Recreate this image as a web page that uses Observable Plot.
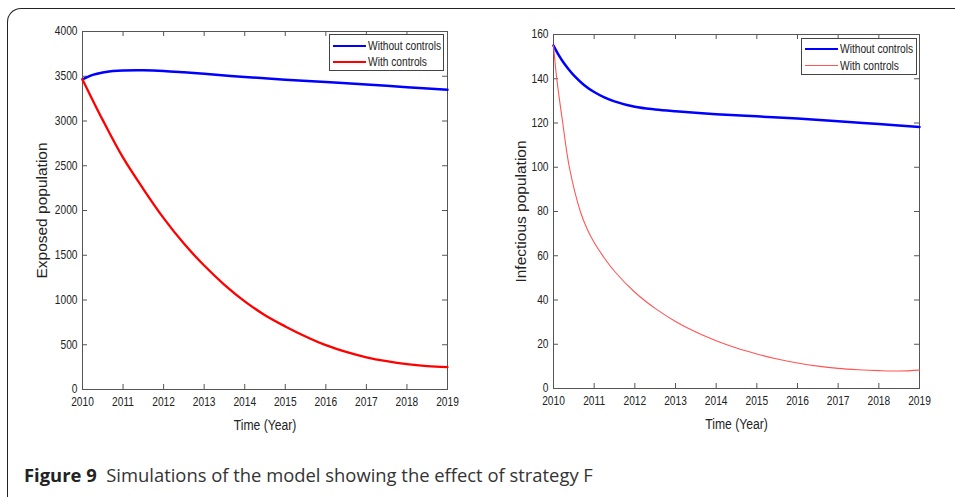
<!DOCTYPE html>
<html>
<head>
<meta charset="utf-8">
<script src="https://cdn.jsdelivr.net/npm/d3@7"></script>
<script src="https://cdn.jsdelivr.net/npm/@observablehq/plot@0.6"></script>
<style>
  body { margin: 0; background: #fff; }
  #page { position: relative; width: 955px; height: 497px; overflow: hidden; background: #fff; }
  #box { position: absolute; left: 7px; top: 8px; width: 1100px; height: 700px; box-sizing: border-box;
         border-top: 1.5px solid #222; border-left: 1.5px solid #222; border-top-left-radius: 14px; }
  .panel { position: absolute; top: 0; }
  .legend { position: absolute; border: 1px solid #444; background: #fff; box-sizing: border-box;
            font-family: "Liberation Sans", Arial, sans-serif; font-size: 12px; color: #222; }
  .legend .sw { position: absolute; height: 0; }
  .legend .lab { position: absolute; white-space: nowrap; transform: translateY(-50%) scaleX(0.85);
                 transform-origin: left center; line-height: 1; }
  #caption { position: absolute; left: 24px; top: 462px; font-family: "Open Sans", "Noto Sans", sans-serif;
             font-size: 18.4px; color: #333; white-space: nowrap; }
  #caption b { font-weight: 700; color: #222; }
</style>
</head>
<body>
<div id="page">
  <div id="box"></div>
  <div id="left" class="panel" style="left:0px"></div>
  <div id="right" class="panel" style="left:480px"></div>
  <div id="caption"><b>Figure 9</b>&nbsp; Simulations of the model showing the effect of strategy F</div>
</div>
<script>
// ---------- data ----------
const seriesNames = ["Without controls", "With controls"];
const xTicks = [2010, 2011, 2012, 2013, 2014, 2015, 2016, 2017, 2018, 2019];
const exposedTicks = [0, 500, 1000, 1500, 2000, 2500, 3000, 3500, 4000];
const infectiousTicks = [0, 20, 40, 60, 80, 100, 120, 140, 160];

// Exposed population, without controls
const exposedWithoutT = [2010, 2010.25, 2010.5, 2010.75, 2011, 2011.5, 2012, 2012.5, 2013, 2014, 2015, 2016, 2017, 2018, 2019];
const exposedWithoutV = [3465, 3515, 3543, 3558, 3565, 3567, 3560, 3545, 3528, 3492, 3462, 3435, 3408, 3378, 3350];
// Exposed population, with controls
const exposedWithT = [2010, 2010.5, 2011, 2011.5, 2012, 2012.5, 2013, 2013.5, 2014, 2014.5, 2015, 2015.5, 2016, 2016.5, 2017, 2017.5, 2018, 2018.5, 2019];
const exposedWithV = [3465, 3010, 2590, 2240, 1915, 1630, 1385, 1170, 985, 830, 705, 593, 495, 420, 360, 316, 283, 262, 250];

// Infectious population, without controls
const infectiousWithoutT = [2010, 2010.125, 2010.25, 2010.375, 2010.5, 2010.75, 2011, 2011.25, 2011.5, 2012, 2012.5, 2013, 2014, 2015, 2016, 2017, 2018, 2019];
const infectiousWithoutV = [155, 150.8, 147.2, 144.2, 141.5, 137.2, 134.0, 131.6, 129.8, 127.3, 126.1, 125.3, 124, 123, 122, 120.8, 119.5, 118.2];
// Infectious population, with controls
const infectiousWithT = [2010, 2010.08, 2010.22, 2010.39, 2010.66, 2010.83, 2011, 2011.25, 2011.5, 2012, 2012.5, 2013, 2013.5, 2014, 2014.5, 2015, 2015.5, 2016, 2016.5, 2017, 2017.5, 2018, 2018.5, 2019];
const infectiousWithV = [155, 140, 121, 100, 80, 72, 66, 59, 53, 43.5, 36.2, 30.3, 25.5, 21.6, 18.3, 15.6, 13.3, 11.5, 10.1, 9.1, 8.5, 8.1, 7.9, 8.3];

const xLabel = "Time (Year)";
const yLabelExposed = "Exposed population";
const yLabelInfectious = "Infectious population";

// ---------- drawing ----------
const sans = '"Liberation Sans", Arial, sans-serif';
const frameColor = "#555";
const squeeze = 0.85; // the reference figure is horizontally compressed

function rows(t, v) { return t.map((x, i) => ({x, y: v[i]})); }

function condense(svg) {
  // horizontally compress non-rotated texts around their anchor point
  svg.querySelectorAll("text").forEach(t => {
    const tr = t.getAttribute("transform") || "";
    if (tr.includes("rotate")) return;
    if (tr) {
      t.setAttribute("transform", tr + ` scale(${squeeze},1)`);
    } else {
      const x = +(t.getAttribute("x") || 0), y = +(t.getAttribute("y") || 0);
      t.removeAttribute("x"); t.removeAttribute("y");
      t.setAttribute("transform", `translate(${x},${y}) scale(${squeeze},1)`);
    }
  });
  return svg;
}

function panel({width, height, mL, mR, mT, mB, yDomain, yTicks, yLabel, yLabelDx, s1, s2, red, redWidth}) {
  const innerW = width - mL - mR;
  const innerH = height - mT - mB;
  return condense(Plot.plot({
    width, height,
    marginLeft: mL, marginRight: mR, marginTop: mT, marginBottom: mB,
    style: {fontFamily: sans, fontSize: "12px", color: "#222", background: "transparent", overflow: "visible"},
    x: {domain: [2010, 2019], axis: null},
    y: {domain: yDomain, axis: null},
    marks: [
      Plot.frame({stroke: frameColor, strokeWidth: 1}),
      // inward tick marks on all four sides
      Plot.tickX(xTicks, {x: d => d, stroke: frameColor, insetTop: innerH - 5}),
      Plot.tickX(xTicks, {x: d => d, stroke: frameColor, insetBottom: innerH - 5}),
      Plot.tickY(yTicks, {y: d => d, stroke: frameColor, insetRight: innerW - 5}),
      Plot.tickY(yTicks, {y: d => d, stroke: frameColor, insetLeft: innerW - 5}),
      Plot.axisX(xTicks, {tickSize: 0, tickPadding: 8, tickFormat: d => String(d), label: null}),
      Plot.axisY(yTicks, {tickSize: 0, tickPadding: 5, tickFormat: d => String(d), label: null}),
      Plot.text([xLabel], {frameAnchor: "bottom", lineAnchor: "middle", textAnchor: "middle", dy: 36, fontSize: 14.3, fill: "#222"}),
      Plot.text([yLabel], {frameAnchor: "left", lineAnchor: "middle", textAnchor: "middle", rotate: -90, dx: yLabelDx, fontSize: 15.5, fill: "#222"}),
      Plot.line(rows(s1.t, s1.v), {x: "x", y: "y", stroke: "#0000ff", strokeWidth: 2.5, curve: "catmull-rom"}),
      Plot.line(rows(s2.t, s2.v), {x: "x", y: "y", stroke: red, strokeWidth: redWidth, curve: "catmull-rom"})
    ]
  }));
}

document.getElementById("left").appendChild(panel({
  width: 475, height: 430, mL: 82, mR: 28, mT: 31, mB: 41,
  yDomain: [0, 4000], yTicks: exposedTicks, yLabel: yLabelExposed, yLabelDx: -40,
  s1: {t: exposedWithoutT, v: exposedWithoutV}, s2: {t: exposedWithT, v: exposedWithV},
  red: "#ff0000", redWidth: 2.3
}));
document.getElementById("right").appendChild(panel({
  width: 475, height: 430, mL: 73, mR: 36, mT: 34, mB: 42,
  yDomain: [0, 160], yTicks: infectiousTicks, yLabel: yLabelInfectious, yLabelDx: -32,
  s1: {t: infectiousWithoutT, v: infectiousWithoutV}, s2: {t: infectiousWithT, v: infectiousWithV},
  red: "#ff5555", redWidth: 1.1
}));

// legends
function legend(parent, {left, top, w, h, row1, row2, lx1, lx2, tx, colors, widths}) {
  const box = document.createElement("div");
  box.className = "legend";
  Object.assign(box.style, {left: left + "px", top: top + "px", width: w + "px", height: h + "px"});
  [row1, row2].forEach((ry, i) => {
    const sw = document.createElement("div");
    sw.className = "sw";
    Object.assign(sw.style, {left: lx1 + "px", width: (lx2 - lx1) + "px", top: (ry - widths[i] / 2) + "px",
      borderTop: widths[i] + "px solid " + colors[i]});
    const lab = document.createElement("div");
    lab.className = "lab";
    lab.textContent = seriesNames[i];
    Object.assign(lab.style, {left: tx + "px", top: ry + "px"});
    box.appendChild(sw); box.appendChild(lab);
  });
  parent.appendChild(box);
}
const page = document.getElementById("page");
legend(page, {left: 329, top: 34, w: 115, h: 37, row1: 11, row2: 27, lx1: 3, lx2: 36, tx: 38,
  colors: ["#0000ff", "#ff0000"], widths: [2.5, 2.3]});
legend(page, {left: 801, top: 38, w: 116, h: 37, row1: 10, row2: 26.5, lx1: 3, lx2: 36, tx: 38,
  colors: ["#0000ff", "#ff5555"], widths: [2.5, 1.1]});
</script>
</body>
</html>
